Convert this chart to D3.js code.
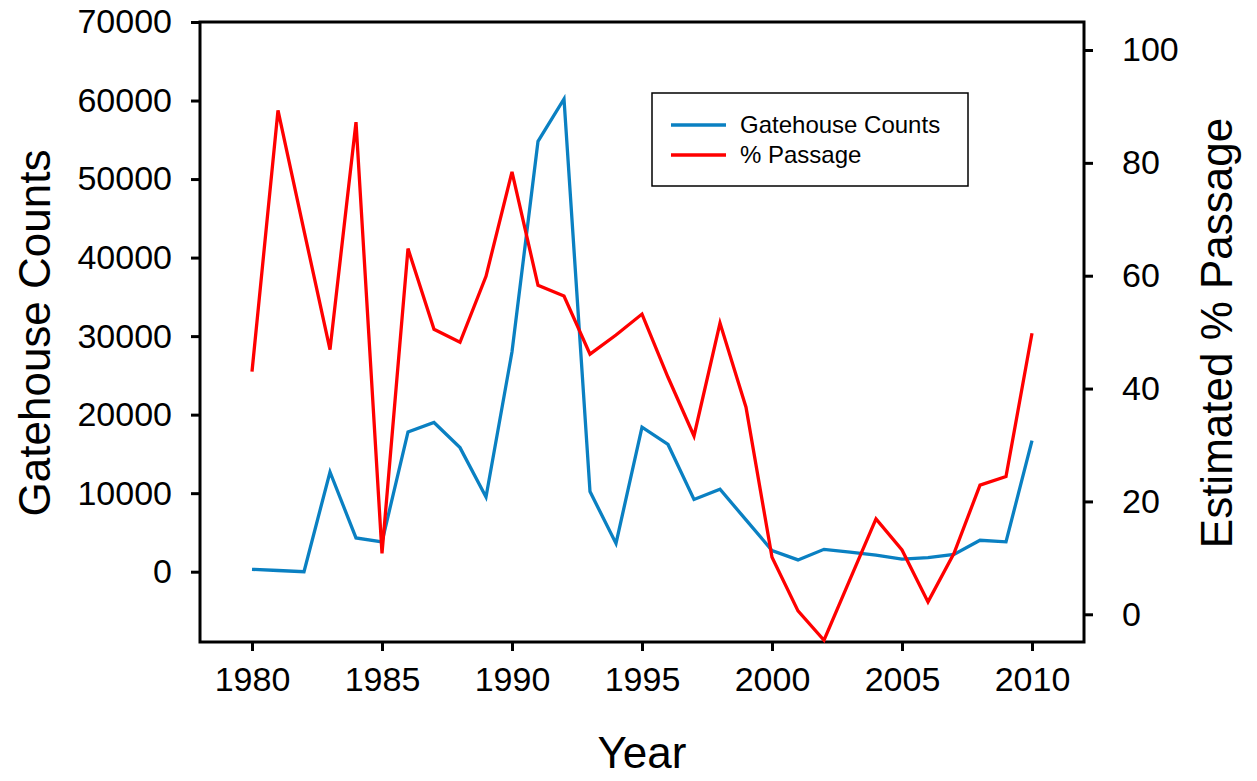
<!DOCTYPE html>
<html lang="en">
<head>
  <meta charset="UTF-8">
  <title>Gatehouse Counts and % Passage</title>
  <style>
    body { margin: 0; background: #fff; }
    svg text { font-family: "Liberation Sans", Arial, sans-serif; fill: #000; }
  </style>
</head>
<body>
  <svg class="chart"></svg>
  <script src="https://cdn.jsdelivr.net/npm/d3@7/dist/d3.min.js"></script>
  <script>
    var w = 1257;
    var h = 781;

    var years = [1980, 1981, 1982, 1983, 1984, 1985, 1986, 1987, 1988, 1989,
                 1990, 1991, 1992, 1993, 1994, 1995, 1996, 1997, 1998, 1999,
                 2000, 2001, 2002, 2003, 2004, 2005, 2006, 2007, 2008, 2009, 2010];
    var gatehouseCounts = [300, 150, 0, 12700, 4300, 3800, 17800, 19000, 15800, 9500,
                           28000, 54800, 60200, 10200, 3600, 18400, 16200, 9200, 10500, 6600,
                           2700, 1500, 2850, 2500, 2100, 1600, 1800, 2200, 4000, 3800, 16700];
    var passagePct = [43.0, 89.3, 68.0, 46.9, 87.2, 10.8, 64.8, 50.5, 48.2, 59.9,
                      78.4, 58.3, 56.4, 46.1, 49.5, 53.2, 42.0, 31.6, 51.6, 36.7,
                      10.1, 0.6, -4.6, 6.2, 16.9, 11.4, 2.2, 10.8, 22.9, 24.4, 49.8];

    var xTicks = [1980, 1985, 1990, 1995, 2000, 2005, 2010];
    var leftTicks = [0, 10000, 20000, 30000, 40000, 50000, 60000, 70000];
    var rightTicks = [0, 20, 40, 60, 80, 100];

    var plotLeft = 200, plotRight = 1084, plotTop = 22, plotBottom = 642;

    var x = d3.scaleLinear().domain([1978, 2012]).range([plotLeft, plotRight]);
    var yL = d3.scaleLinear().domain([-8952, 70000]).range([plotBottom, plotTop]);
    var yR = d3.scaleLinear().domain([-4.91, 104.96]).range([plotBottom, plotTop]);

    var svg = d3.select(".chart").attr("width", w).attr("height", h);

    // axes
    var gx = svg.append("g")
      .attr("transform", "translate(0," + plotBottom + ")")
      .call(d3.axisBottom(x).tickValues(xTicks).tickFormat(d3.format("d")).tickSize(9).tickPadding(16).tickSizeOuter(0));
    var gl = svg.append("g")
      .attr("transform", "translate(" + plotLeft + ",0)")
      .call(d3.axisLeft(yL).tickValues(leftTicks).tickFormat(d3.format("d")).tickSize(9).tickPadding(19).tickSizeOuter(0));
    var gr = svg.append("g")
      .attr("transform", "translate(" + plotRight + ",0)")
      .call(d3.axisRight(yR).tickValues(rightTicks).tickFormat(d3.format("d")).tickSize(9).tickPadding(29).tickSizeOuter(0));

    [gx, gl, gr].forEach(function(g) {
      g.select(".domain").remove();
      g.selectAll(".tick line").attr("stroke", "#000").attr("stroke-width", 3);
      g.selectAll(".tick text")
        .style("font-size", "34px")
        .style("font-family", "'Liberation Sans', Arial, sans-serif")
        .attr("fill", "#000");
    });
    gx.selectAll(".tick text").attr("dy", "0.71em");

    // frame
    svg.append("rect")
      .attr("x", plotLeft).attr("y", plotTop)
      .attr("width", plotRight - plotLeft).attr("height", plotBottom - plotTop)
      .attr("fill", "none").attr("stroke", "#000").attr("stroke-width", 3);

    // lines
    var blueLine = d3.line()
      .x((d, i) => x(years[i]))
      .y(d => yL(d));
    var redLine = d3.line()
      .x((d, i) => x(years[i]))
      .y(d => yR(d));

    svg.append("path")
      .attr("d", blueLine(gatehouseCounts))
      .attr("fill", "none").attr("stroke", "#0a80c2").attr("stroke-width", 3.3)
      .attr("stroke-linejoin", "miter");
    svg.append("path")
      .attr("d", redLine(passagePct))
      .attr("fill", "none").attr("stroke", "#ff0000").attr("stroke-width", 3.3)
      .attr("stroke-linejoin", "miter");

    // axis titles
    svg.append("text")
      .attr("x", (plotLeft + plotRight) / 2).attr("y", 768)
      .attr("text-anchor", "middle")
      .style("font-size", "44px")
      .text("Year");
    svg.append("text")
      .attr("transform", "translate(50,333) rotate(-90)")
      .attr("text-anchor", "middle")
      .style("font-size", "44px")
      .text("Gatehouse Counts");
    svg.append("text")
      .attr("transform", "translate(1232,333) rotate(-90)")
      .attr("text-anchor", "middle")
      .style("font-size", "44px")
      .text("Estimated % Passage");

    // legend
    var legend = svg.append("g").attr("transform", "translate(652,93)");
    legend.append("rect")
      .attr("width", 316).attr("height", 93)
      .attr("fill", "#fff").attr("stroke", "#000").attr("stroke-width", 1.5);
    var items = [
      {label: "Gatehouse Counts", color: "#0a80c2"},
      {label: "% Passage", color: "#ff0000"}
    ];
    items.forEach(function(item, i) {
      var yy = 32 + i * 30;
      legend.append("line")
        .attr("x1", 19).attr("x2", 74).attr("y1", yy).attr("y2", yy)
        .attr("stroke", item.color).attr("stroke-width", 3.3);
      legend.append("text")
        .attr("x", 88).attr("y", yy)
        .attr("dy", "0.35em")
        .style("font-size", "24px")
        .text(item.label);
    });
  </script>
</body>
</html>
